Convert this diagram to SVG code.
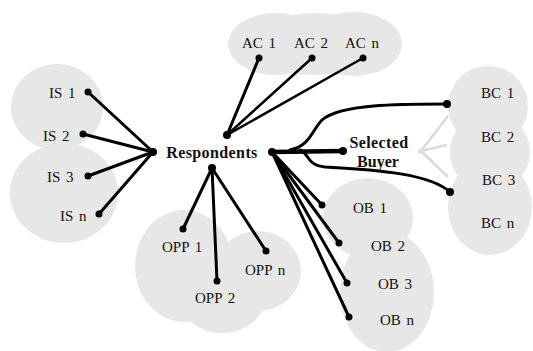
<svg xmlns="http://www.w3.org/2000/svg" width="533" height="351" viewBox="0 0 533 351">
<style>
.cloud{fill:#e7e7e7}
.t{font-family:"Liberation Serif","Times New Roman",serif;font-size:15px;fill:#111;word-spacing:2px}
.b{font-family:"Liberation Serif","Times New Roman",serif;font-size:16px;font-weight:bold;fill:#111}
.e{stroke:#000;stroke-width:3;fill:none;stroke-linecap:round}
.thin{stroke-width:2.5}
.g{stroke:#dadada;stroke-width:2.5;fill:none}
.d{fill:#000}
</style>
<rect width="533" height="351" fill="#fff"/>
<g id="clouds">
<g id="is-cloud" class="cloud"><ellipse cx="57" cy="107" rx="46" ry="43"/><ellipse cx="64" cy="193" rx="54" ry="50"/></g>
<g id="ac-cloud" class="cloud"><ellipse cx="276" cy="44" rx="48" ry="31"/><ellipse cx="354" cy="44" rx="48" ry="32"/><ellipse cx="315" cy="44" rx="66" ry="31"/></g>
<g id="bc-cloud" class="cloud"><circle cx="488" cy="106" r="40"/><circle cx="490" cy="152" r="40"/><ellipse cx="490" cy="207" rx="42" ry="48"/></g>
<g id="ob-cloud" class="cloud"><ellipse cx="368" cy="218" rx="45" ry="40"/><ellipse cx="387" cy="292" rx="47" ry="60"/></g>
<g id="opp-cloud" class="cloud"><ellipse cx="184" cy="266" rx="49" ry="56"/><ellipse cx="222" cy="300" rx="42" ry="33"/><ellipse cx="258" cy="271" rx="43" ry="40"/></g>
</g>
<g id="connectors">
<line class="e" x1="153" y1="152" x2="88" y2="92"/>
<line class="e" x1="153" y1="152" x2="83" y2="134"/>
<line class="e" x1="153" y1="152" x2="88" y2="176"/>
<line class="e" x1="153" y1="152" x2="99" y2="214"/>
<line class="e" x1="227" y1="135" x2="259" y2="58"/>
<line class="e thin" x1="227" y1="135" x2="312" y2="58"/>
<line class="e thin" x1="227" y1="135" x2="363" y2="58"/>
<line class="e" x1="212" y1="168" x2="183" y2="229"/>
<line class="e" x1="212" y1="168" x2="217" y2="281"/>
<line class="e" x1="212" y1="168" x2="266" y2="251"/>
<line class="e" x1="272" y1="152" x2="322" y2="205"/>
<line class="e" x1="272" y1="152" x2="339" y2="243"/>
<line class="e" x1="272" y1="152" x2="347" y2="283"/>
<line class="e" x1="272" y1="152" x2="349" y2="317"/>
<line class="e" style="stroke-width:4.5" x1="272" y1="152" x2="343" y2="151"/>
<path class="e" d="M290,150 C310,146 312,130 322,120 C340,104 400,104 447,104"/>
<path class="e" d="M300,150 C310,154 306,165 325,167 C380,170 430,174 450,192"/>
<path class="g" d="M448,116 L421,151 L447,145 M421,151 L448,177"/>
</g>
<g id="respondents"><circle class="d" cx="153" cy="152" r="4"/><circle class="d" cx="227" cy="135" r="4"/><circle class="d" cx="212" cy="168" r="4"/><circle class="d" cx="272" cy="152" r="4"/><text class="b" x="212" y="158" text-anchor="middle" letter-spacing="0.4">Respondents</text></g>
<g id="selected-buyer"><circle class="d" cx="343" cy="151" r="4"/><circle fill="#e0e0e0" cx="421" cy="151" r="3"/><text class="b" x="379" y="148" text-anchor="middle" letter-spacing="0.4">Selected</text><text class="b" x="378" y="167" text-anchor="middle">Buyer</text></g>
<g id="is1"><circle class="d" cx="88" cy="92" r="3.5"/><text class="t" x="49" y="98">IS 1</text></g>
<g id="is2"><circle class="d" cx="83" cy="134" r="3.5"/><text class="t" x="43" y="141">IS 2</text></g>
<g id="is3"><circle class="d" cx="88" cy="176" r="3.5"/><text class="t" x="47" y="182">IS 3</text></g>
<g id="isn"><circle class="d" cx="99" cy="214" r="3.5"/><text class="t" x="60" y="221">IS n</text></g>
<g id="ac1"><circle class="d" cx="259" cy="58" r="3.5"/><text class="t" x="242" y="48">AC 1</text></g>
<g id="ac2"><circle class="d" cx="312" cy="58" r="3.5"/><text class="t" x="294" y="48">AC 2</text></g>
<g id="acn"><circle class="d" cx="363" cy="58" r="3.5"/><text class="t" x="345" y="48">AC n</text></g>
<g id="bc1"><circle class="d" cx="447" cy="104" r="4"/><text class="t" x="481" y="98">BC 1</text></g>
<g id="bc2"><text class="t" x="481" y="142">BC 2</text></g>
<g id="bc3"><circle class="d" cx="450" cy="192" r="4"/><text class="t" x="482" y="185">BC 3</text></g>
<g id="bcn"><text class="t" x="481" y="228">BC n</text></g>
<g id="ob1"><circle class="d" cx="322" cy="205" r="3.5"/><text class="t" x="353" y="213">OB 1</text></g>
<g id="ob2"><circle class="d" cx="339" cy="243" r="3.5"/><text class="t" x="371" y="251">OB 2</text></g>
<g id="ob3"><circle class="d" cx="347" cy="283" r="3.5"/><text class="t" x="378" y="289">OB 3</text></g>
<g id="obn"><circle class="d" cx="349" cy="317" r="3.5"/><text class="t" x="380" y="325">OB n</text></g>
<g id="opp1"><circle class="d" cx="183" cy="229" r="3.5"/><text class="t" x="162" y="252">OPP 1</text></g>
<g id="opp2"><circle class="d" cx="217" cy="281" r="3.5"/><text class="t" x="195" y="303">OPP 2</text></g>
<g id="oppn"><circle class="d" cx="266" cy="251" r="3.5"/><text class="t" x="245" y="275">OPP n</text></g>
</svg>
